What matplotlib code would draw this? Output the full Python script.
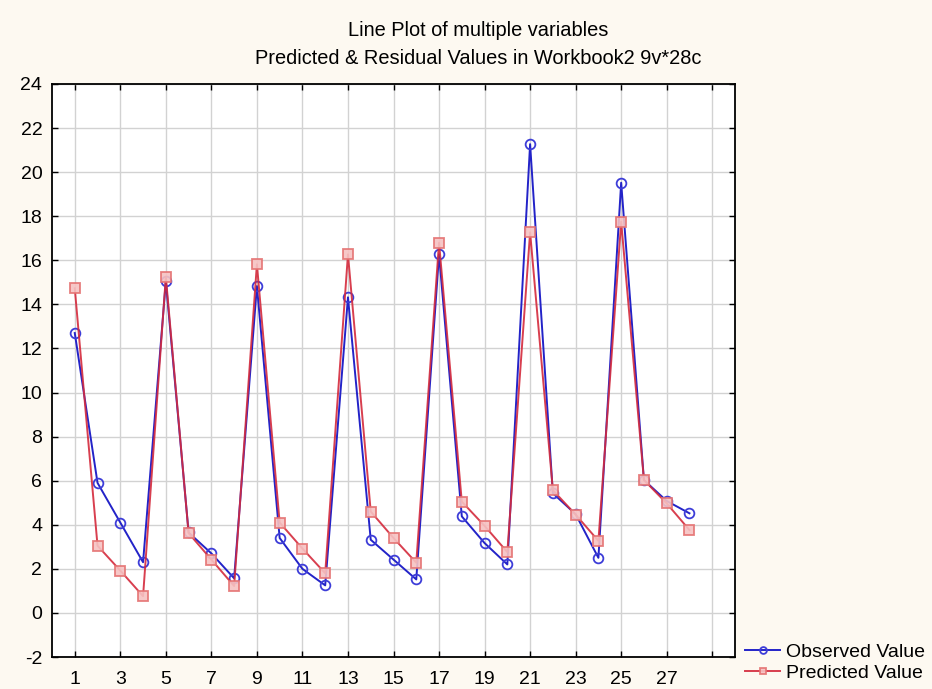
import numpy as np
import matplotlib
matplotlib.use("Agg")
import matplotlib.pyplot as plt

plt.rcParams['font.family'] = ['Liberation Sans', 'DejaVu Sans']
plt.rcParams['axes.unicode_minus'] = False

# --- data ---
cases = list(range(1, 29))
observed = [12.7, 5.9, 4.1, 2.3, 15.05, 3.65, 2.7, 1.57,
            14.83, 3.4, 2.0, 1.25, 14.32, 3.32, 2.42, 1.52,
            16.27, 4.38, 3.17, 2.2, 21.27, 5.43, 4.48, 2.5,
            19.52, 6.03, 5.08, 4.52]
predicted = [14.73, 3.05, 1.92, 0.76, 15.25, 3.62, 2.42, 1.22,
             15.82, 4.1, 2.92, 1.8, 16.27, 4.6, 3.4, 2.28,
             16.8, 5.05, 3.95, 2.76, 17.27, 5.57, 4.46, 3.27,
             17.75, 6.03, 4.97, 3.76]
xticks = list(range(1, 30, 2))
xticklabels = [str(t) for t in xticks[:-1]] + ['']
yticks = list(range(-2, 25, 2))

title1 = "Line Plot of multiple variables"
title2 = "Predicted & Residual Values in Workbook2 9v*28c"

bg = '#fdf9f1'
W, H = 932, 689

fig = plt.figure(figsize=(W / 100, H / 100), dpi=100, facecolor=bg)
ax = fig.add_axes([52 / W, 1 - 657 / H, (735 - 52) / W, (657 - 84) / H])
ax.set_facecolor('white')

ax.plot(cases, observed, color='#2323c8', lw=1.4, marker='o', ms=7,
        mfc='none', mec='#3d3dd8', mew=1.3, label='Observed Value', zorder=3)
ax.plot(cases, predicted, color='#d42a3c', lw=1.4, marker='s', ms=6.5,
        mfc='#f6c2c2', mec='#e57272', mew=1.3, alpha=0.9,
        label='Predicted Value', zorder=4)

ax.set_xlim(0, 30)
ax.set_ylim(-2, 24)
ax.set_xticks(xticks)
ax.set_xticklabels(xticklabels)
ax.set_yticks(yticks)
ax.grid(True, color='#d2d2d2', lw=1.0)
ax.set_axisbelow(True)
ax.tick_params(direction='in', length=4, width=1, labelsize=14,
               top=True, right=True)
ax.tick_params(axis='x', pad=10)
ax.tick_params(axis='y', pad=7)
for s in ax.spines.values():
    s.set_linewidth(1.3)
    s.set_color('black')

fig.text(478 / W, 1 - 30 / H, title1, ha='center', va='center', fontsize=14.4)
fig.text(478 / W, 1 - 58 / H, title2, ha='center', va='center', fontsize=14.4)

fig.legend(loc='upper left', bbox_to_anchor=(745 / W, 1 - 643 / H),
           frameon=False, fontsize=14, handlelength=1.8, handletextpad=0.3,
           labelspacing=0.2, borderpad=0, borderaxespad=0, markerscale=0.7)

fig.savefig('out.png', dpi=100, facecolor=bg)
